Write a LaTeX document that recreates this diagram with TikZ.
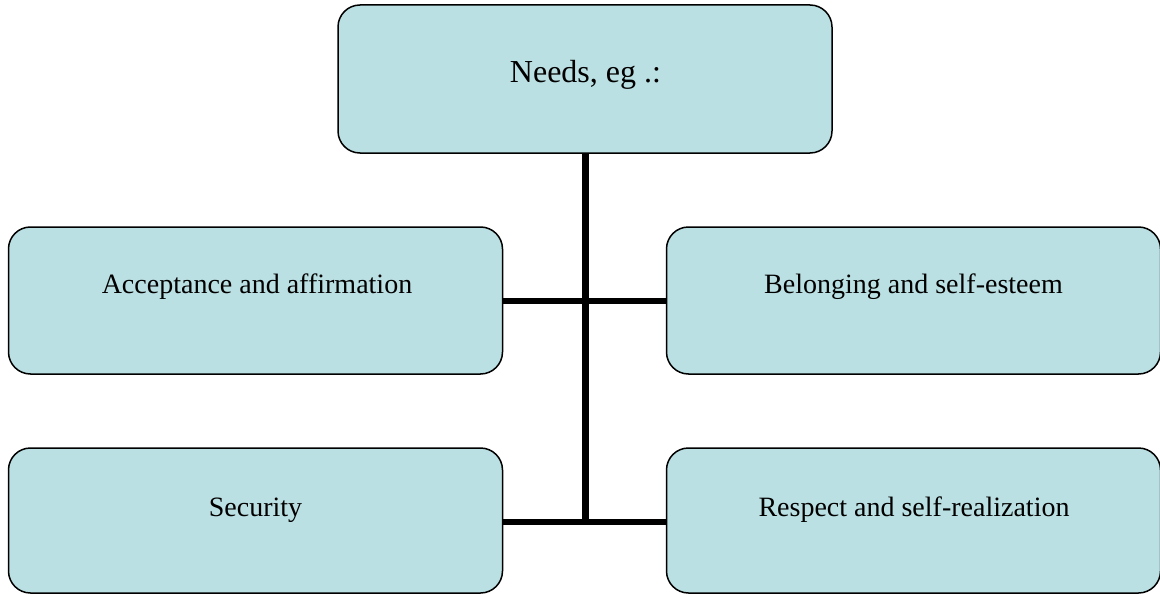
\documentclass[tikz,border=0pt]{standalone}
\usepackage{fontspec}
\setmainfont{Liberation Serif}
\definecolor{boxfill}{HTML}{BBE0E3}
\begin{document}
\begin{tikzpicture}[x=1pt,y=-1pt,
  box/.style={draw=black, line width=1.5pt, fill=boxfill, rounded corners=22pt, inner sep=0pt, minimum width=494pt},
  lbl/.style={anchor=base, inner sep=0pt, font=\fontsize{28}{34}\selectfont},
  bigl/.style={anchor=base, inner sep=0pt, font=\fontsize{32}{38}\selectfont},
  conn/.style={draw=black, line width=6.5pt}]
\useasboundingbox (0,0) rectangle (1160,594);
\node[box, minimum height=148pt] (needs) at (585,79) {};
\node[box, minimum height=147pt] (acc) at (255.5,300.5) {};
\node[box, minimum height=147pt] (bel) at (913.5,300.5) {};
\node[box, minimum height=145pt] (sec) at (255.5,520.5) {};
\node[box, minimum height=145pt] (res) at (913.5,520.5) {};
\node[bigl] (needst) at (585.5,83) {Needs, eg .:};
\node[lbl] (acct) at (257,293) {Acceptance and affirmation};
\node[lbl] (belt) at (913.5,293) {Belonging and self-esteem};
\node[lbl] (sect) at (255.5,516) {Security};
\node[lbl] (rest) at (914,516) {Respect and self-realization};
\coordinate (vend) at (585.5,522);
\draw[conn] (needs.south -| vend) -- (vend);
\draw[conn] (acc.east |- 0,301) -- (bel.west |- 0,301);
\draw[conn] (sec.east |- vend) -- (res.west |- vend);
\end{tikzpicture}
\end{document}
